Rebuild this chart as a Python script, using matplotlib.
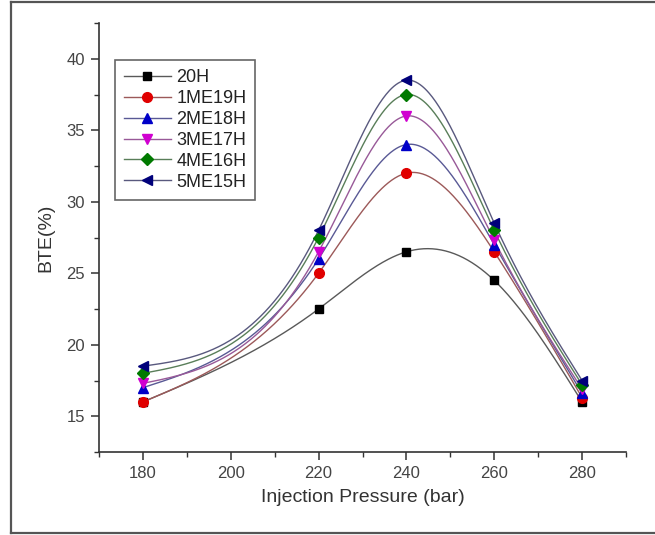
import numpy as np
import matplotlib
matplotlib.use("Agg")
import matplotlib.pyplot as plt
from matplotlib.lines import Line2D
from matplotlib.ticker import MultipleLocator

plt.rcParams['font.family'] = ['Liberation Sans', 'DejaVu Sans']

pressure = [180, 220, 240, 260, 280]
bte_20H = [16.0, 22.5, 26.5, 24.5, 16.0]
bte_1ME19H = [16.0, 25.0, 32.0, 26.5, 16.3]
bte_2ME18H = [17.0, 26.0, 34.0, 27.0, 16.6]
bte_3ME17H = [17.3, 26.5, 36.0, 27.3, 16.9]
bte_4ME16H = [18.0, 27.5, 37.5, 28.0, 17.2]
bte_5ME15H = [18.5, 28.0, 38.5, 28.5, 17.5]

labels = ["20H", "1ME19H", "2ME18H", "3ME17H", "4ME16H", "5ME15H"]
series = [bte_20H, bte_1ME19H, bte_2ME18H, bte_3ME17H, bte_4ME16H, bte_5ME15H]
colors = ["#000000", "#e00000", "#0000c8", "#d000d0", "#007a00", "#00007a"]
markers = ["s", "o", "^", "v", "D", "<"]
msizes = [6, 7, 7.5, 7.5, 6, 7.5]


def natural_spline(x, y, xs):
    x = np.asarray(x, float)
    y = np.asarray(y, float)
    n = len(x)
    h = np.diff(x)
    A = np.zeros((n, n))
    b = np.zeros(n)
    A[0, 0] = 1
    A[-1, -1] = 1
    for i in range(1, n - 1):
        A[i, i - 1] = h[i - 1]
        A[i, i] = 2 * (h[i - 1] + h[i])
        A[i, i + 1] = h[i]
        b[i] = 6 * ((y[i + 1] - y[i]) / h[i] - (y[i] - y[i - 1]) / h[i - 1])
    M = np.linalg.solve(A, b)
    out = np.empty_like(xs, dtype=float)
    for k, xv in enumerate(xs):
        i = min(max(np.searchsorted(x, xv) - 1, 0), n - 2)
        t1 = x[i + 1] - xv
        t0 = xv - x[i]
        out[k] = (M[i] * t1 ** 3 / (6 * h[i]) + M[i + 1] * t0 ** 3 / (6 * h[i])
                  + (y[i] / h[i] - M[i] * h[i] / 6) * t1
                  + (y[i + 1] / h[i] - M[i + 1] * h[i] / 6) * t0)
    return out


def blend(c, w=0.3):
    rgb = np.array(matplotlib.colors.to_rgb(c))
    gray = np.array([0.5, 0.5, 0.5])
    return tuple(rgb * w + gray * (1 - w))


fig = plt.figure(figsize=(6.55, 5.35), dpi=100)
ax = fig.add_axes([99 / 655, 1 - 452 / 535, (626 - 99) / 655, (452 - 23) / 535])

xs = np.linspace(pressure[0], pressure[-1], 400)
handles = []
for lab, ys, c, m, ms in zip(labels, series, colors, markers, msizes):
    lc = blend(c)
    ax.plot(xs, natural_spline(pressure, ys, xs), color=lc, lw=1.0, zorder=2)
    ax.plot(pressure, ys, linestyle="none", marker=m, color=c, ms=ms, zorder=3)
    handles.append(Line2D([], [], color=lc, lw=1.0, marker=m, mfc=c, mec=c, ms=ms))

ax.set_xlim(170, 290)
ax.set_ylim(12.5, 42.5)
ax.xaxis.set_major_locator(MultipleLocator(20))
ax.xaxis.set_minor_locator(MultipleLocator(10))
ax.yaxis.set_major_locator(MultipleLocator(5))
ax.yaxis.set_minor_locator(MultipleLocator(2.5))
ax.set_yticks([15, 20, 25, 30, 35, 40])
ax.set_xticks([180, 200, 220, 240, 260, 280])

for s in ["top", "right"]:
    ax.spines[s].set_visible(False)
for s in ["left", "bottom"]:
    ax.spines[s].set_linewidth(1.2)
    ax.spines[s].set_color("#333333")

ax.tick_params(which="major", direction="out", length=6, width=1.1, color="#333333",
               labelsize=12, labelcolor="#444444", pad=4)
ax.tick_params(which="minor", direction="out", length=3.5, width=1.0, color="#333333")

ax.set_xlabel("Injection Pressure (bar)", fontsize=14, color="#333333", labelpad=6)
ax.set_ylabel("BTE(%)", fontsize=14, color="#333333", labelpad=9)

leg = ax.legend(handles, labels, loc="upper left", bbox_to_anchor=(0.03, 0.914),
                borderaxespad=0, fontsize=13, labelspacing=0.22, handlelength=2.6,
                handletextpad=0.3, borderpad=0.5, fancybox=False, framealpha=1)
leg.get_frame().set_edgecolor("#666666")
leg.get_frame().set_linewidth(1.2)
for t in leg.get_texts():
    t.set_color("#222222")

# outer figure border
fig.add_artist(Line2D([11 / 655, 11 / 655], [1 - 533 / 535, 1 - 2 / 535],
                      transform=fig.transFigure, color="#555555", lw=1.6))
fig.add_artist(Line2D([11 / 655, 1], [1 - 2 / 535, 1 - 2 / 535],
                      transform=fig.transFigure, color="#555555", lw=1.6))
fig.add_artist(Line2D([11 / 655, 1], [1 - 533 / 535, 1 - 533 / 535],
                      transform=fig.transFigure, color="#555555", lw=1.6))

fig.savefig("out.png", dpi=100)
